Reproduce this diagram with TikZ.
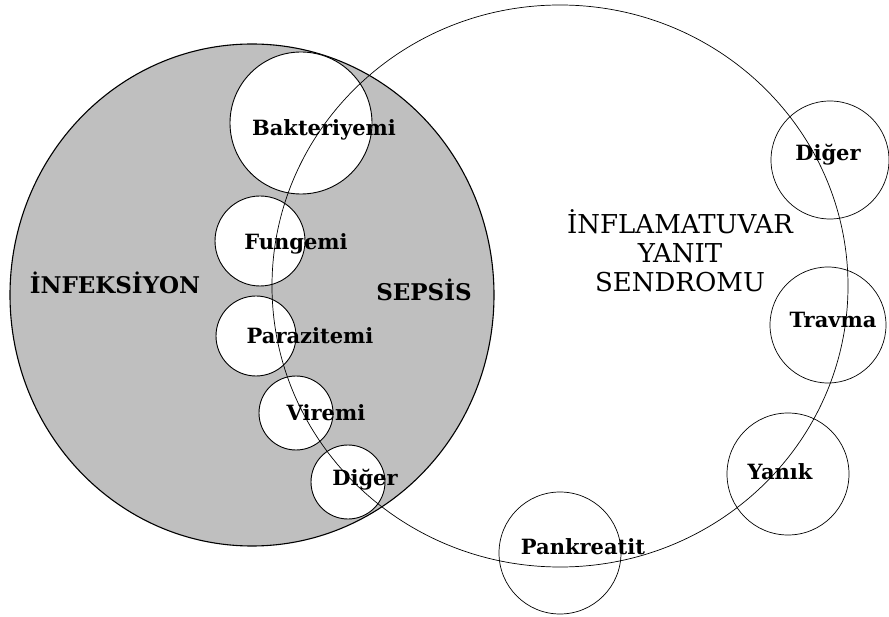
\documentclass[tikz,border=0pt]{standalone}
\usepackage{fontspec}
\setmainfont{DejaVu Serif}
\usetikzlibrary{positioning}

\tikzset{
  setlabel/.style={font=\fontsize{23}{26}\selectfont\bfseries},
  sublabel/.style={font=\fontsize{21}{24}\selectfont\bfseries, inner sep=0pt},
  ring/.style={draw, line width=0.9pt},
}

\begin{document}
\begin{tikzpicture}[x=1pt, y=-1pt]
  \useasboundingbox (0,0) rectangle (889,617);
  % infection set, shaded
  \fill[black!25] (252,295) ellipse [x radius=242pt, y radius=251pt];
  \draw[line width=1.1pt] (252,295) ellipse [x radius=242pt, y radius=251pt];
  % pathogen circles cut out of the shading
  \foreach \x/\y/\r in {301/123/71, 260/241/45, 256/336/40, 296/413/37, 348/482/37}
    \filldraw[ring, fill=white] (\x,\y) circle [radius=\r pt];
  % SIRS set and its causes
  \draw[line width=0.7pt] (560,286) ellipse [x radius=288pt, y radius=281pt];
  \foreach \x/\y/\r in {830/160/59, 828/325/58, 788/474/61, 560/553/61}
    \draw[line width=0.7pt] (\x,\y) circle [radius=\r pt];

  \node[setlabel] (infek) at (115,283) {İNFEKSİYON};
  \node[setlabel] (sepsis) at (424,290) {SEPSİS};
  \node[font=\fontsize{26}{29}\selectfont, align=center] (sirs) at (680,251)
    {İNFLAMATUVAR\\YANIT\\SENDROMU};

  \node[sublabel] (bakt) at (324,130) {Bakteriyemi};
  \node[sublabel] (fung) at (296,244) {Fungemi};
  \node[sublabel] (paraz) at (310,336) {Parazitemi};
  \node[sublabel] (vir) at (326,413) {Viremi};
  \node[sublabel] (digerL) at (365,480) {Diğer};
  \node[sublabel] (digerR) at (828,155) {Diğer};
  \node[sublabel] (travma) at (833,320) {Travma};
  \node[sublabel] (yanik) at (780,472) {Yanık};
  \node[sublabel] (pank) at (583,547) {Pankreatit};
\end{tikzpicture}
\end{document}
